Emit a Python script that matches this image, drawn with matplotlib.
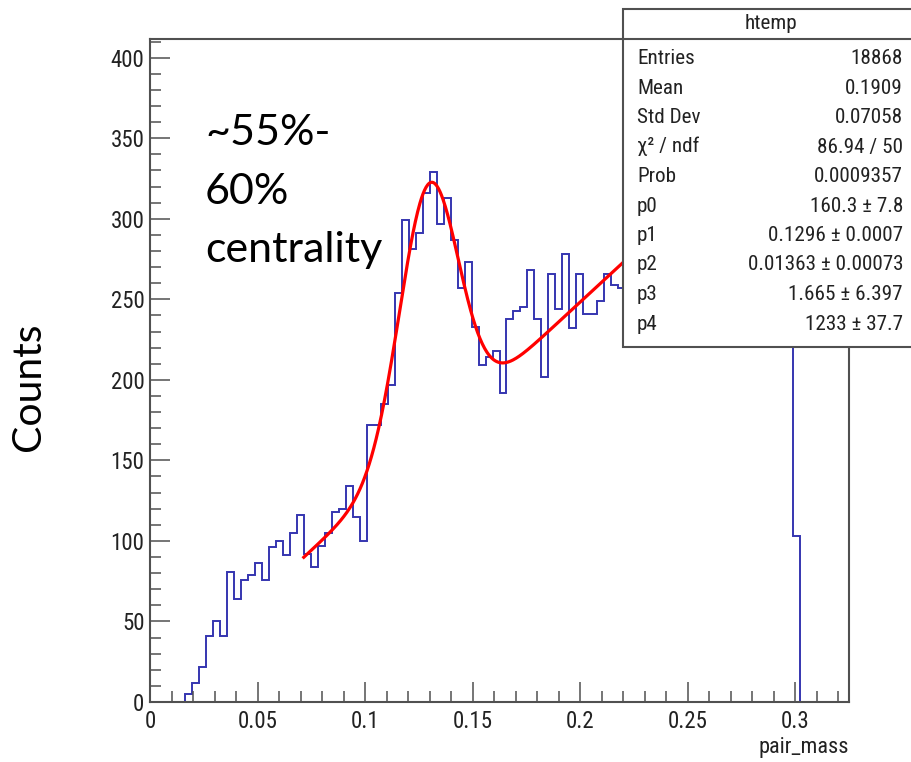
import numpy as np
import matplotlib
matplotlib.use("Agg")
import matplotlib.pyplot as plt
from matplotlib import font_manager as fm
from matplotlib.patches import Rectangle
from matplotlib.lines import Line2D
from matplotlib.ticker import MultipleLocator, FuncFormatter

# histogram: 100 bins from 0 to 0.325, first filled bin is index 5
x_min, x_max, n_bins = 0.0, 0.325, 100
first_bin = 5
counts_visible = [5, 12, 22, 41, 50, 41, 81, 64, 76, 79,
                  86, 76, 96, 100, 91, 105, 116, 92, 84, 97,
                  105, 118, 120, 134, 115, 100, 172, 172, 185, 197,
                  254, 299, 281, 291, 316, 329, 297, 313, 287, 257,
                  273, 233, 209, 214, 218, 192, 238, 243, 245, 268,
                  238, 202, 266, 244, 278, 232, 266, 241, 241, 249,
                  266, 259, 257]
# bins 68-91 sit behind the stats box (only their lower bound is visible)
counts_hidden = [267, 256, 278, 265, 287, 274, 293, 282, 304, 291,
                 312, 298, 317, 306, 330, 315, 336, 322, 343, 331,
                 354, 342, 361, 392]
counts_tail = [103]

# fit parameters (gaus + pol1) as printed in the stats box
p0, p1, p2, p3, p4 = 160.3, 0.1296, 0.01363, 1.665, 1233.0
fit_lo, fit_hi = 0.0715, 0.25

stats_labels = ["Entries", "Mean", "Std Dev", "χ² / ndf", "Prob",
                "p0", "p1", "p2", "p3", "p4"]
stats_values = ["18868", "0.1909", "0.07058", "86.94 / 50", "0.0009357",
                "160.3 ± 7.8", "0.1296 ± 0.0007", "0.01363 ± 0.00073",
                "1.665 ± 6.397", "1233 ± 37.7"]

counts = np.zeros(n_bins)
filled = counts_visible + counts_hidden + counts_tail
counts[first_bin:first_bin + len(filled)] = filled
edges = np.linspace(x_min, x_max, n_bins + 1)


def has_font(name):
    try:
        fm.findfont(fm.FontProperties(family=name), fallback_to_default=False)
        return True
    except ValueError:
        return False


# ROOT labels are a narrow Helvetica; use a condensed face if one exists
narrow = [f for f in ["Liberation Sans Narrow", "Roboto Condensed",
                      "Open Sans Condensed", "DejaVu Sans Condensed"] if has_font(f)]
is_narrow = len(narrow) > 0
narrow = narrow + ["Liberation Sans", "DejaVu Sans"]
tick_size = 16.5 if is_narrow else 15
title_size = 16 if is_narrow else 14.5
stats_size = 15.2 if is_narrow else 14

W, H = 911, 762
frame_col = "#505050"
text_col = "#222222"

fig = plt.figure(figsize=(W / 100, H / 100), dpi=100)
ax = fig.add_axes([150 / W, 1 - 702 / H, (849 - 150) / W, (702 - 39) / H])

ax.stairs(counts, edges, color="#3535b0", lw=1.4, baseline=0)

xf = np.linspace(fit_lo, fit_hi, 500)
yf = p0 * np.exp(-0.5 * ((xf - p1) / p2) ** 2) + p3 + p4 * xf
ax.plot(xf, yf, color="#ff0000", lw=2.3)

ax.set_xlim(x_min, x_max)
ax.set_ylim(0, 1.05 * counts.max())

ax.xaxis.set_major_locator(MultipleLocator(0.05))
ax.xaxis.set_minor_locator(MultipleLocator(0.01))
ax.yaxis.set_major_locator(MultipleLocator(50))
ax.yaxis.set_minor_locator(MultipleLocator(10))
ax.xaxis.set_major_formatter(FuncFormatter(lambda v, p: "%g" % round(v, 3)))
ax.yaxis.set_major_formatter(FuncFormatter(lambda v, p: "%d" % v))
ax.tick_params(which="both", direction="in", top=False, right=False,
               color=frame_col, width=1.1)
ax.tick_params(which="major", length=14.5, labelsize=tick_size, pad=6)
ax.tick_params(which="minor", length=8)
ax.tick_params(axis="y", which="major", pad=4)
for lab in ax.get_xticklabels() + ax.get_yticklabels():
    lab.set_family(narrow)
    lab.set_color(text_col)
for s in ax.spines.values():
    s.set_color(frame_col)
    s.set_linewidth(1.5)

# stats box
bx0, by_top, by_bot = 623 / W, 1 - 9.3 / H, 1 - 346.7 / H
fig.add_artist(Rectangle((bx0, by_bot), 1.05 - bx0, by_top - by_bot,
                         transform=fig.transFigure, facecolor="white",
                         edgecolor=frame_col, lw=1.5, zorder=5))
fig.add_artist(Line2D([bx0, 1.05], [1 - 39.3 / H, 1 - 39.3 / H],
                      transform=fig.transFigure, color=frame_col, lw=1.5, zorder=6))
fig.text(771 / W, 1 - 29 / H, "htemp", ha="center", va="baseline",
         family=narrow, fontsize=stats_size, color=text_col, zorder=7)
for i, (lab, val) in enumerate(zip(stats_labels, stats_values)):
    yb = 1 - (64 + 29.5 * i) / H
    fig.text(637 / W, yb, lab, ha="left", va="baseline", family=narrow,
             fontsize=stats_size, color=text_col, zorder=7)
    fig.text(903 / W, yb, val, ha="right", va="baseline", family=narrow,
             fontsize=stats_size, color=text_col, zorder=7)

# annotation and axis titles
for i, line in enumerate(["~55%-", "60%", "centrality"]):
    fig.text(205 / W, 1 - (145 + 58.5 * i) / H, line, ha="left", va="baseline",
             family=["Lato", "DejaVu Sans"], fontsize=31)
fig.text(29 / W, 1 - 387 / H, "Counts", rotation=90, ha="center", va="center",
         family=["Lato", "DejaVu Sans"], fontsize=29.5)
fig.text(849 / W, 1 - 753 / H, "pair_mass", ha="right", va="baseline",
         family=narrow, fontsize=title_size, color=text_col)

fig.savefig("out.png", dpi=100)
